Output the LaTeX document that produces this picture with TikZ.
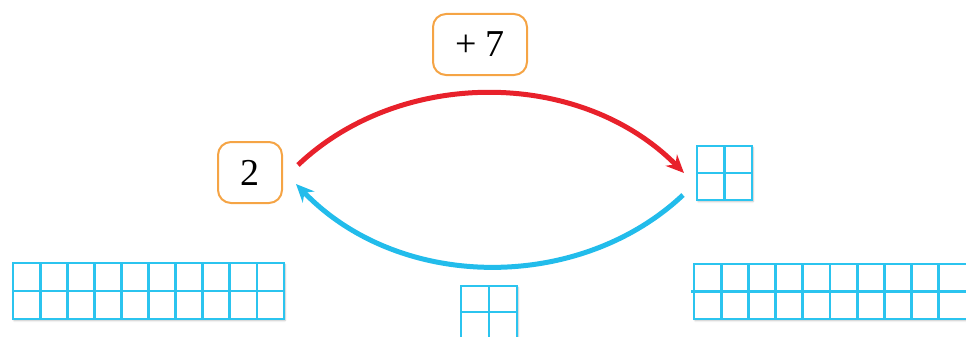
\documentclass[tikz,border=0pt]{standalone}
\usepackage{fontspec}
\setmainfont{Liberation Serif}
\usetikzlibrary{arrows.meta,shadows.blur}
\definecolor{boxorange}{HTML}{F5A445}
\definecolor{gridblue}{HTML}{2BC4EF}
\definecolor{arrred}{HTML}{E8212B}
\definecolor{arrblue}{HTML}{22BCEB}
\tikzset{
  numbox/.style={draw=boxorange, line width=2pt, rounded corners=13pt, fill=white, inner sep=0pt, font=\fontsize{38}{40}\selectfont},
  gridline/.style={draw=gridblue, line width=2.8pt},
  gridbg/.style={fill=white, draw=none, blur shadow={shadow xshift=1pt, shadow yshift=-1.5pt, shadow blur steps=6, shadow opacity=25}},
  arc/.style={line width=5pt, -{Stealth[length=18pt,width=16pt]}},
}
\begin{document}
\begin{tikzpicture}[x=1pt,y=-1pt]
\useasboundingbox (0,0) rectangle (966,337);
% boxes
\node[numbox, minimum width=64pt, minimum height=61pt] (two) at (250,172.5) {2};
\node[numbox, minimum width=94pt, minimum height=61pt] (plus) at (480,44.5) {+ 7};
% small grid top right
\node[gridbg, minimum width=55pt, minimum height=54pt, inner sep=0pt] (sq) at (724.5,173) {};
\draw[gridline] (697,146) rectangle (752,200) (724.5,146) -- (724.5,200) (697,173) -- (752,173);
% left grid
\node[gridbg, minimum width=271pt, minimum height=56pt, inner sep=0pt] (lg) at (148.5,291) {};
\draw[gridline] (13,263) rectangle (284,319) (13,291) -- (284,291);
\foreach \i in {1,...,9} \draw[gridline] (13+27.1*\i,263) -- (13+27.1*\i,319);
% right grid
\node[gridbg, minimum width=276pt, minimum height=55pt, inner sep=0pt] (rg) at (832,291.5) {};
\draw[gridline] (966,264) -- (694,264) -- (694,319) -- (966,319) (691,291.5) -- (966,291.5);
\foreach \i in {1,...,9} \draw[gridline] (694+27.2*\i,264) -- (694+27.2*\i,319);
% bottom middle grid
\node[gridbg, minimum width=56pt, minimum height=60pt, inner sep=0pt] (mg) at (489,316) {};
\draw[gridline] (461,340) -- (461,286) -- (517,286) -- (517,340) (489,286) -- (489,340) (461,312) -- (517,312);
% arrows
\coordinate (rs) at (298,165);
\coordinate (re) at (684,173);
\coordinate (bs) at (683,195);
\coordinate (be) at (296,184);
\draw[arc, draw=arrred] (rs) .. controls (400,68) and (580,68) .. (re);
\draw[arc, draw=arrblue] (bs) .. controls (580,292) and (400,292) .. (be);
\end{tikzpicture}
\end{document}
